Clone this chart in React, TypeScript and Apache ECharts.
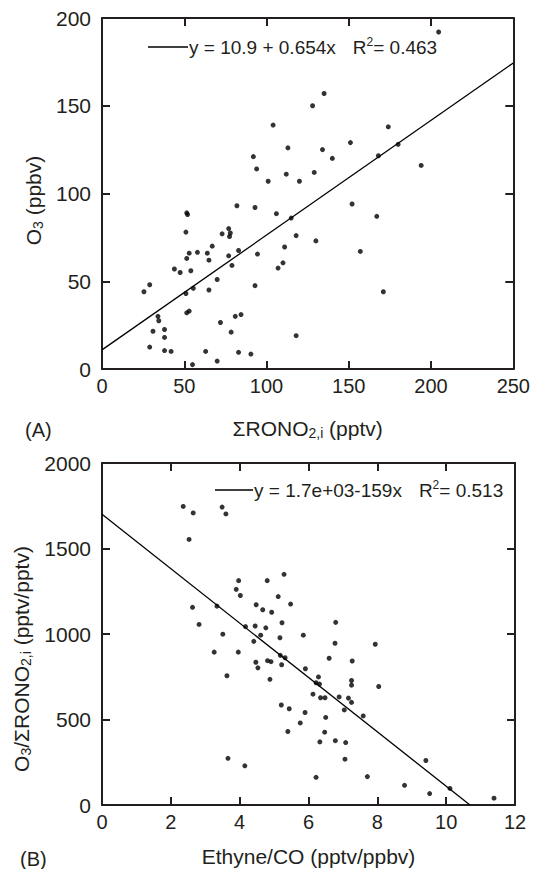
import React, { useEffect, useRef } from "react";
import * as echarts from "echarts";

// Panel A: ΣRONO2,i (pptv) vs O3 (ppbv)
const ronoA = [
  204.6, 135, 128, 104, 174, 113, 134, 151, 180, 92, 140, 168, 94, 112, 129, 194, 101, 120,
  152, 167, 82, 93, 51.5, 52, 106, 115, 51, 77, 73, 78, 77.5, 118, 130, 67, 111, 157, 53, 58,
  64, 83, 94.5, 51.5, 65, 77, 79, 110, 107, 44, 47.5, 54, 70, 29, 25.5, 93, 171, 51, 55.5, 65,
  51.5, 53, 34, 34.5, 81, 84.5, 72, 31, 38, 38, 78.5, 118, 29, 38, 42, 63, 83, 90.5, 70, 55,
];
const o3A = [
  192, 157, 150, 139, 138, 126, 125, 129, 128, 121, 120, 121.5, 114, 111, 112, 116, 107, 107,
  94, 87, 93, 92, 89, 88, 88.5, 86, 78, 80, 77, 77.5, 75.5, 76, 73, 70, 69.5, 67, 66, 66.5,
  66, 67.5, 65.5, 63, 62, 64.5, 59, 60.5, 57.5, 57, 55, 56, 51, 48, 44, 47.5, 44, 43, 46, 45,
  32, 33, 30, 27.5, 30, 31, 26.5, 21.5, 22.5, 18, 21, 19, 12.5, 10.5, 10, 10, 9.5, 8.5, 4.5, 2.5,
];
const fitA = { intercept: 10.9, slope: 0.654, r2: "0.463" };
const xTicksA = { min: 0, max: 250, interval: 50 };
const yTicksA = { min: 0, max: 200, interval: 50 };

// Panel B: Ethyne/CO (pptv/ppbv) vs O3/ΣRONO2,i (pptv/pptv)
const ethyneB = [
  2.36, 2.65, 3.49, 3.6, 2.53, 5.29, 3.97, 4.8, 3.9, 4.02, 5.12, 2.63, 3.34, 4.48, 4.67, 4.93,
  5.48, 2.82, 4.17, 4.45, 4.76, 5.23, 6.79, 3.51, 4.61, 5.85, 4.41, 5.17, 6.77, 7.94, 3.26, 3.96,
  5.18, 5.32, 4.47, 4.81, 4.91, 6.6, 7.27, 5.22, 4.53, 5.91, 3.63, 6.29, 4.88, 7.25, 6.22, 6.32,
  7.25, 8.04, 6.13, 6.35, 6.48, 6.89, 7.16, 7.25, 5.21, 5.44, 7.04, 5.9, 7.59, 6.5, 5.76, 5.4,
  6.47, 6.33, 6.78, 7.08, 3.66, 4.15, 7.06, 9.41, 6.22, 7.71, 8.79, 10.11, 9.52, 11.39,
];
const ratioB = [
  1746, 1708, 1742, 1702, 1553, 1349, 1312, 1312, 1261, 1225, 1219, 1156, 1163, 1171, 1142, 1127,
  1175, 1056, 1043, 1047, 1036, 1066, 1068, 999, 993, 993, 957, 978, 946, 940, 894, 894,
  875, 861, 835, 844, 838, 858, 842, 820, 802, 797, 756, 749, 735, 728, 715, 707,
  701, 693, 648, 627, 627, 632, 625, 600, 585, 563, 556, 541, 521, 512, 480, 430,
  426, 369, 376, 365, 273, 229, 268, 260, 162, 166, 115, 97, 67, 40,
];
const fitB = { intercept: 1700, slope: -159, r2: "0.513" };
const xTicksB = { min: 0, max: 12, interval: 2 };
const yTicksB = { min: 0, max: 2000, interval: 500 };

const FONT = "'Liberation Sans', Arial, Helvetica, sans-serif";
const INK = "#231f20";
const FS_LEG = 19;
const FS_NAME = 21;

const subRich = {
  sub: { fontSize: 14, fontFamily: FONT, color: INK, verticalAlign: "bottom", lineHeight: 14 },
};

function makeAxis(range: { min: number; max: number; interval: number }, gridIndex: number, position: string, showLabels: boolean, extra: any = {}) {
  const isLeft = position === "left";
  return {
    type: "value",
    gridIndex,
    position,
    min: range.min,
    max: range.max,
    interval: range.interval,
    splitLine: { show: false },
    axisLine: { show: true, onZero: false, lineStyle: { color: INK, width: 2 } },
    axisTick: { show: true, inside: true, length: 8, lineStyle: { color: INK, width: 2 } },
    axisLabel: {
      show: showLabels,
      fontSize: isLeft ? 21 : 20,
      fontFamily: FONT,
      color: INK,
      margin: isLeft ? 11 : 7,
      padding: isLeft ? [4, 0, 0, 0] : 0,
      formatter: (v: number) => String(v),
    },
    ...extra,
  };
}

function legendGraphic(x1: number, x2: number, y: number, eq: string, r2: string) {
  return [
    {
      type: "line",
      shape: { x1, y1: y, x2, y2: y },
      style: { stroke: "#000", lineWidth: 1.3 },
    },
    {
      type: "text",
      x: x2 + 1,
      y,
      style: {
        text: `${eq}{g|}R{sup|2}= ${r2}`,
        fontSize: FS_LEG,
        fontFamily: FONT,
        fill: INK,
        verticalAlign: "middle",
        lineHeight: 22,
        rich: {
          g: { width: 17 },
          sup: { fontSize: 12, fontFamily: FONT, fill: INK, verticalAlign: "top", lineHeight: 12 } as any,
        },
      },
    },
  ];
}

const nameStyle = { fontSize: FS_NAME, fontFamily: FONT, color: INK, lineHeight: 24, rich: subRich };

export default function App() {
  const ref = useRef<HTMLDivElement>(null);
  useEffect(() => {
    document.body.style.margin = "0";
    const chart = echarts.init(ref.current!, undefined, { renderer: "svg" });
    const ptsA = ronoA.map((x, i) => [x, o3A[i]]);
    const ptsB = ethyneB.map((x, i) => [x, ratioB[i]]);
    const lineA = [
      [xTicksA.min, fitA.intercept + fitA.slope * xTicksA.min],
      [xTicksA.max, fitA.intercept + fitA.slope * xTicksA.max],
    ];
    const xZeroB = -fitB.intercept / fitB.slope;
    const lineB = [
      [0, fitB.intercept],
      [xZeroB, 0],
    ];
    chart.setOption({
      animation: false,
      backgroundColor: "#fff",
      grid: [
        { left: 102, top: 18, width: 413, height: 351 },
        { left: 102, top: 463, width: 413, height: 349 },
      ],
      xAxis: [
        makeAxis(xTicksA, 0, "bottom", true, {
          name: "ΣRONO{sub|2,i} (pptv)",
          nameLocation: "middle",
          nameGap: 47,
          nameTextStyle: nameStyle,
        }),
        makeAxis(xTicksA, 0, "top", false),
        makeAxis(xTicksB, 1, "bottom", true, {
          name: "Ethyne/CO (pptv/ppbv)",
          nameLocation: "middle",
          nameGap: 39,
          nameTextStyle: nameStyle,
        }),
        makeAxis(xTicksB, 1, "top", false),
      ],
      yAxis: [
        makeAxis(yTicksA, 0, "left", true, {
          name: "O{sub|3} (ppbv)",
          nameLocation: "middle",
          nameRotate: 90,
          nameGap: 50,
          nameTextStyle: { ...nameStyle, padding: [0, 14, 0, 0] },
        }),
        makeAxis(yTicksA, 0, "right", false),
        makeAxis(yTicksB, 1, "left", true, {
          name: "O{sub|3}/ΣRONO{sub|2,i} (pptv/pptv)",
          nameLocation: "middle",
          nameRotate: 90,
          nameGap: 64,
          nameTextStyle: { ...nameStyle, padding: [0, 50, 0, 0] },
        }),
        makeAxis(yTicksB, 1, "right", false),
      ],
      series: [
        {
          type: "scatter",
          xAxisIndex: 0,
          yAxisIndex: 0,
          data: ptsA,
          symbolSize: 5,
          itemStyle: { color: "#000" },
        },
        {
          type: "line",
          xAxisIndex: 0,
          yAxisIndex: 0,
          data: lineA,
          showSymbol: false,
          lineStyle: { color: "#000", width: 1.3 },
        },
        {
          type: "scatter",
          xAxisIndex: 2,
          yAxisIndex: 2,
          data: ptsB,
          symbolSize: 5,
          itemStyle: { color: "#000" },
        },
        {
          type: "line",
          xAxisIndex: 2,
          yAxisIndex: 2,
          data: lineB,
          showSymbol: false,
          lineStyle: { color: "#000", width: 1.3 },
        },
      ],
      graphic: [
        ...legendGraphic(148, 188, 47, "y = 10.9 + 0.654x", fitA.r2),
        ...legendGraphic(215, 253, 490, "y = 1.7e+03-159x", fitB.r2),
        {
          type: "text",
          x: 25,
          y: 430,
          style: { text: "(A)", fontSize: 20, fontFamily: FONT, fill: INK, verticalAlign: "middle" },
        },
        {
          type: "text",
          x: 20,
          y: 859,
          style: { text: "(B)", fontSize: 20, fontFamily: FONT, fill: INK, verticalAlign: "middle" },
        },
      ],
    });
    return () => chart.dispose();
  }, []);
  return <div ref={ref} style={{ position: "fixed", left: 0, top: 0, width: 533, height: 869 }} />;
}
